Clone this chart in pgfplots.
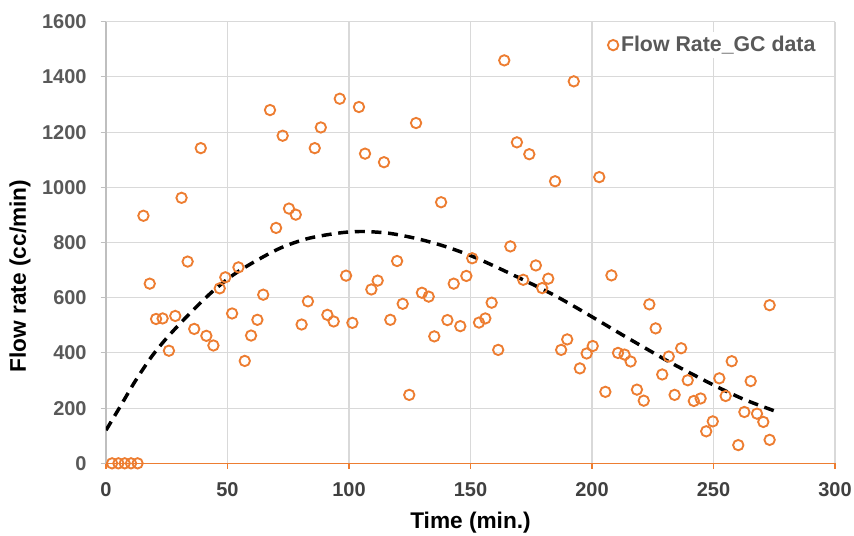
\documentclass[border=0pt]{standalone}
\usepackage{fontspec}
\setmainfont{Liberation Sans}
\usepackage{pgfplots}
\pgfplotsset{compat=1.18}
\definecolor{xlorange}{HTML}{ED7D31}
\definecolor{gridgray}{HTML}{D9D9D9}
\definecolor{axgray}{HTML}{BFBFBF}
\definecolor{ytext}{HTML}{595959}
\definecolor{xtext}{HTML}{404040}
\begin{document}
\begin{tikzpicture}
\begin{axis}[
    width=546.75pt, height=331.2pt, scale only axis,
    xmin=0, xmax=300, ymin=0, ymax=1600,
    xtick={0,50,...,300}, ytick={0,200,...,1600},
    axis lines=left, axis line style={-},
    x axis line style={xlorange, line width=1.1pt},
    y axis line style={axgray, line width=0.9pt},
    grid=major, major grid style={gridgray, line width=0.8pt},
    tick align=outside, major tick length=4pt,
    x tick style={xlorange, line width=0.8pt},
    y tick style={axgray, line width=0.8pt},
    /pgf/number format/assume math mode=true,
    /pgf/number format/1000 sep={},
    ticklabel style={font=\bfseries\fontsize{15}{17}\selectfont},
    xticklabel style={xtext, anchor=center, yshift=-15.5pt},
    yticklabel style={ytext, anchor=east, xshift=-7pt},
    xlabel={Time (min.)}, ylabel={Flow rate (cc/min)},
    label style={font=\bfseries\fontsize{17}{19}\selectfont, black},
    xlabel style={at={(axis description cs:0.5,-0.134)}, anchor=center},
    ylabel style={at={(axis description cs:-0.118,0.424)}, anchor=center},
    legend style={at={(0.979,0.947)}, anchor=east, draw=none, fill=white,
      font=\bfseries\fontsize{16}{18}\selectfont, text=ytext, inner sep=1pt,
      legend image code/.code={\draw[#1] plot coordinates {(0cm,0cm)};}},
    legend cell align=left,
]
\addplot[only marks, mark=o, mark size=3.9pt, mark options={xlorange, line width=1.4pt}]
coordinates {
(2.5,0) (5.1,0) (7.7,0) (10.3,0) (13,0)
(15.4,897) (18,651) (20.6,523) (23.3,525) (25.9,408) (28.5,534) (31.1,962)
(33.6,731) (36.3,487) (39,1142) (41.3,462) (44.2,427) (46.8,634) (49.1,674)
(51.9,543) (54.5,710) (57.1,371) (59.7,463) (62.3,520) (64.7,611) (67.5,1280)
(70,853) (72.7,1187) (75.3,923) (78.1,901) (80.5,503) (83.1,587) (85.9,1142)
(88.4,1217) (91.1,538) (93.7,514) (96.2,1321) (98.8,680) (101.4,509) (104.1,1291)
(106.6,1122) (109.2,630) (111.8,662) (114.4,1091) (117,520) (119.8,733) (122.1,578)
(124.8,248) (127.6,1233) (130,618) (132.8,604) (135.1,460) (137.9,946) (140.5,519)
(143.1,651) (145.8,497) (148.3,679) (150.7,743) (153.5,510) (156.1,525) (158.7,582)
(161.4,411) (163.9,1460) (166.4,786) (169.1,1163) (171.7,665) (174.2,1120) (176.9,717)
(179.5,635) (182,669) (184.8,1022) (187.3,411) (189.8,449) (192.5,1384) (195,344)
(197.8,398) (200.3,425) (203,1037) (205.5,259) (208,681) (210.7,400) (213.4,394)
(215.9,369) (218.5,267) (221.3,227) (223.6,576) (226.2,489) (228.9,322) (231.6,387)
(234,248) (236.7,417) (239.4,301) (241.9,226) (244.7,235) (247,116) (249.7,152)
(252.4,308) (255,244) (257.5,370) (260.2,66) (262.7,186) (265.3,298) (267.9,180)
(270.5,150) (273.1,573) (273.1,85)
};
\addlegendentry{Flow Rate\_GC data}
\addplot[black, line width=2.6pt, dash pattern=on 7.5pt off 5pt, smooth, forget plot]
coordinates {
(0,120) (5.8,205) (11.9,296) (18.8,387) (25.6,460) (34.6,544) (43.5,620)
(52.4,683) (62,735) (72.3,782) (83.3,815) (96.3,835) (105.9,840) (116.9,833)
(128.5,813) (139.5,786) (150.5,751) (161.4,708) (172.4,662) (183.4,614) (192,572)
(201.9,521) (212.2,467) (221.8,418) (232.1,366) (242.4,318) (252.7,272) (263,230)
(276,187)
};
\end{axis}
\pgfresetboundingbox
\path ([shift={(-79.5pt,-54pt)}]current axis.south west) rectangle ([shift={(14.25pt,16.3pt)}]current axis.north east);
\end{tikzpicture}
\end{document}
